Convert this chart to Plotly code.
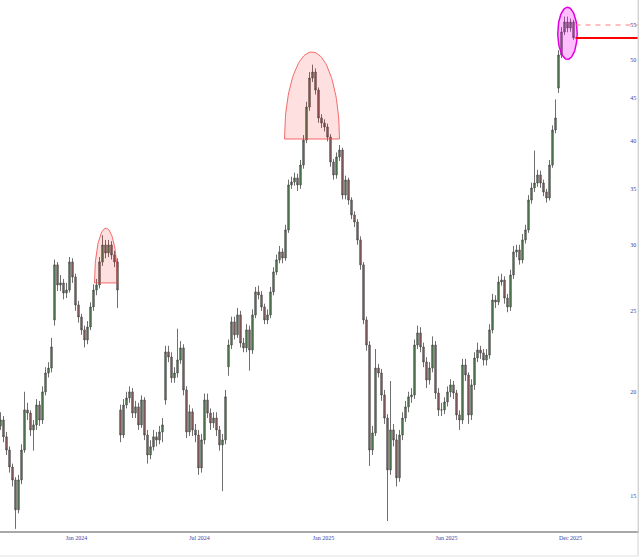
import math
import plotly.graph_objects as go

# ---------------- data ----------------
BAR_STEP = 3  # each candle stands for 3 trading sessions
tick_days = [76, 199, 323, 446, 570]
tick_labels = ["Jan 2024", "Jul 2024", "Jan 2025", "Jun 2025", "Dec 2025"]
y_ticks = [15, 20, 25, 30, 35, 40, 45, 50, 55]

closes = [
    18.50, 17.66, 17.03, 16.25, 15.68, 14.44, 15.68, 17.03, 19.02, 18.86,
    18.00, 18.25, 19.28, 18.50, 19.99, 21.06, 21.35, 22.63, 28.38, 26.85,
    27.00, 26.26, 26.48, 28.61, 27.45, 25.41, 24.58, 23.72, 23.07, 23.91,
    25.27, 26.48, 26.85, 28.61, 29.98, 29.33, 29.98, 29.17, 28.61, 26.48,
    17.75, 19.28, 19.66, 19.99, 18.86, 19.18, 18.25, 19.55, 17.75, 16.80,
    17.18, 17.66, 17.51, 17.90, 18.25, 22.32, 22.01, 20.78, 21.06, 21.83,
    22.57, 20.10, 17.90, 18.92, 18.00, 17.75, 16.21, 17.51, 19.55, 18.86,
    18.35, 18.60, 18.00, 17.27, 17.51, 19.72, 22.75, 24.25, 23.40, 24.72,
    22.88, 22.57, 23.72, 22.44, 24.72, 26.34, 26.12, 25.27, 24.38, 24.72,
    26.34, 27.83, 28.77, 29.41, 28.92, 31.25, 35.38, 35.67, 36.07, 35.38,
    37.38, 40.05, 43.86, 47.52, 48.31, 45.97, 42.56, 41.97, 41.51, 40.38,
    37.69, 36.37, 38.22, 38.96, 34.41, 35.87, 33.94, 32.57, 31.94, 30.40,
    28.38, 24.38, 22.75, 17.03, 17.85, 21.35, 21.06, 19.82, 18.60, 16.12,
    18.00, 17.51, 15.77, 17.75, 18.60, 19.18, 19.72, 19.82, 22.75, 23.52,
    22.63, 21.71, 20.66, 21.35, 22.75, 19.93, 19.02, 19.02, 19.44, 19.99,
    20.38, 19.93, 18.76, 18.50, 21.53, 20.95, 18.76, 20.38, 21.95, 22.44,
    22.26, 21.83, 22.13, 23.72, 25.76, 25.62, 27.07, 27.22, 25.90, 25.27,
    27.60, 29.41, 29.57, 28.77, 30.40, 31.25, 33.94, 35.09, 35.57, 36.37,
    35.57, 34.70, 34.13, 37.38, 41.17, 42.56, 50.64, 53.95, 55.46, 54.55,
    55.46, 53.10,
]
highs = [
    18.9, 18.7, 17.9, 17.2, 16.4, 15.8, 15.9, 17.3, 20.0, 19.4,
    19.0, 18.5, 19.6, 19.5, 20.3, 21.4, 21.7, 23.2, 28.8, 28.6,
    27.6, 27.3, 27.0, 29.0, 28.9, 27.7, 25.7, 24.8, 24.0, 24.3,
    25.6, 26.9, 27.3, 29.0, 30.8, 30.4, 30.4, 30.3, 29.5, 28.9,
    19.3, 19.6, 20.0, 20.3, 20.2, 19.5, 19.4, 19.8, 19.7, 18.0,
    17.5, 18.0, 17.9, 18.2, 18.6, 22.7, 22.7, 22.3, 21.4, 23.8,
    23.0, 22.8, 20.3, 19.3, 19.1, 18.3, 18.0, 17.8, 19.9, 19.9,
    19.1, 18.9, 18.9, 18.2, 17.8, 20.1, 23.1, 24.6, 24.6, 25.2,
    25.0, 23.2, 24.1, 24.0, 25.1, 26.7, 26.8, 26.4, 25.5, 25.1,
    26.7, 28.2, 29.2, 29.9, 29.7, 31.7, 35.9, 36.2, 36.6, 36.5,
    37.9, 40.6, 44.5, 48.3, 49.3, 48.8, 46.3, 43.0, 42.4, 41.9,
    40.7, 38.0, 38.7, 39.5, 39.2, 36.3, 36.1, 34.2, 32.9, 32.2,
    30.7, 28.6, 24.6, 23.0, 18.2, 22.5, 21.6, 21.3, 20.1, 18.8,
    20.6, 18.3, 17.8, 18.0, 18.9, 19.5, 20.0, 20.2, 23.1, 24.0,
    23.9, 22.9, 22.0, 21.7, 23.3, 23.0, 20.2, 19.4, 19.7, 20.3,
    20.7, 20.6, 20.1, 19.0, 21.9, 21.9, 21.1, 20.7, 22.3, 22.9,
    22.7, 22.5, 22.5, 24.1, 26.2, 26.1, 27.5, 27.7, 27.5, 26.2,
    28.0, 29.9, 30.0, 30.0, 30.9, 31.7, 34.4, 35.6, 38.9, 36.9,
    36.8, 35.9, 35.0, 37.9, 41.7, 44.8, 51.3, 54.7, 56.3, 56.3,
    56.0, 55.8,
]
lows = [
    18.0, 17.4, 16.8, 16.0, 15.4, 13.7, 14.3, 15.5, 16.9, 18.5,
    17.7, 17.0, 18.0, 18.2, 18.3, 19.8, 20.8, 21.1, 24.0, 26.4,
    26.4, 25.8, 25.9, 26.3, 27.0, 25.0, 24.2, 23.4, 22.6, 22.8,
    23.7, 25.0, 26.1, 26.6, 28.3, 28.9, 29.0, 28.8, 28.2, 25.2,
    17.4, 17.6, 19.1, 19.4, 18.6, 18.6, 18.0, 18.1, 17.5, 16.4,
    16.6, 17.0, 17.2, 17.3, 17.4, 19.3, 21.7, 20.5, 20.5, 20.8,
    21.6, 19.8, 17.6, 17.7, 17.7, 17.4, 15.9, 16.0, 17.3, 18.6,
    18.0, 18.1, 17.7, 17.0, 15.2, 17.3, 20.9, 22.5, 23.1, 23.2,
    22.6, 22.3, 22.3, 21.2, 22.2, 24.5, 25.8, 25.0, 24.1, 24.1,
    24.5, 26.1, 27.6, 28.5, 28.5, 28.7, 31.0, 35.0, 35.3, 34.8,
    35.0, 37.0, 39.7, 43.4, 47.0, 45.4, 42.0, 41.4, 41.0, 39.9,
    37.2, 35.9, 36.0, 37.8, 34.0, 34.0, 33.5, 32.2, 31.5, 30.0,
    28.0, 24.1, 22.4, 16.3, 16.8, 17.7, 20.8, 19.5, 18.3, 14.0,
    15.9, 17.2, 15.4, 15.6, 17.5, 18.4, 18.9, 19.4, 19.6, 22.5,
    22.3, 21.4, 20.2, 20.4, 21.1, 19.6, 18.7, 18.7, 18.8, 19.2,
    19.7, 19.6, 18.5, 18.0, 18.3, 20.6, 18.3, 18.5, 20.1, 21.7,
    21.9, 21.5, 21.5, 21.9, 23.5, 25.2, 25.4, 26.8, 25.5, 24.9,
    25.0, 27.3, 29.0, 28.4, 28.5, 30.1, 31.0, 33.6, 34.7, 35.2,
    35.1, 34.3, 33.7, 33.9, 37.1, 40.8, 45.6, 50.2, 53.5, 53.9,
    54.0, 52.8,
]
# opens where a candle does not open at the previous close (price gaps)
gap_opens = {0: 18.2, 18: 24.38, 40: 19.02, 55: 19.55, 76: 21.42, 186: 46.22}

# annotation levels / zones
resistance_level = 53.05
dashed_level = 55.0
domes = [  # (start day, end day, base price, top price)
    (94, 117, 27.0, 31.4),
    (284, 339, 40.16, 51.06),
]
ellipse_zone = (557.3, 576.7, 50.04, 57.75)
level_start_day = 575

# ---------------- figure ----------------
days = [i * BAR_STEP for i in range(len(closes))]
opens = [gap_opens[i] if i in gap_opens else closes[i - 1] for i in range(len(closes))]

AXIS_FONT = dict(family="Liberation Serif", size=6, color="#3b3ba6")

fig = go.Figure()
fig.add_trace(go.Candlestick(
    x=days, open=opens, high=highs, low=lows, close=closes,
    increasing=dict(line=dict(color="#4a4a4a", width=0.8), fillcolor="#4f8a4f"),
    decreasing=dict(line=dict(color="#4a4a4a", width=0.8), fillcolor="#9a6060"),
    whiskerwidth=0, hoverinfo="skip", showlegend=False,
))


def dome_points(x0, x1, base, top, n=60):
    cx, a = (x0 + x1) / 2, (x1 - x0) / 2
    lb, lt = math.log10(base), math.log10(top)
    xs, ys = [], []
    for k in range(n + 1):
        t = math.pi * k / n
        xs.append(cx - a * math.cos(t))
        ys.append(10 ** (lb + (lt - lb) * math.sin(t)))
    xs.append(xs[0]); ys.append(ys[0])
    return xs, ys


for (d0, d1, b, t) in domes:
    xs, ys = dome_points(d0, d1, b, t)
    fig.add_trace(go.Scatter(x=xs, y=ys, mode="lines", fill="toself",
                             fillcolor="rgba(255,0,0,0.12)",
                             line=dict(color="rgba(240,60,60,0.75)", width=1),
                             hoverinfo="skip", showlegend=False))

ex0, ex1, ey0, ey1 = ellipse_zone
ecx, ea = (ex0 + ex1) / 2, (ex1 - ex0) / 2
lc = (math.log10(ey0) + math.log10(ey1)) / 2
lr = (math.log10(ey1) - math.log10(ey0)) / 2
exs = [ecx + ea * math.cos(2 * math.pi * k / 80) for k in range(81)]
eys = [10 ** (lc + lr * math.sin(2 * math.pi * k / 80)) for k in range(81)]
fig.add_trace(go.Scatter(x=exs, y=eys, mode="lines", fill="toself",
                         fillcolor="rgba(255,0,255,0.25)",
                         line=dict(color="#e000e0", width=1.5),
                         hoverinfo="skip", showlegend=False))

fig.add_trace(go.Scatter(x=[level_start_day, 640], y=[dashed_level, dashed_level], mode="lines",
                         line=dict(color="rgba(255,110,110,0.6)", width=1.5, dash="5px,5px"),
                         hoverinfo="skip", showlegend=False))
fig.add_trace(go.Scatter(x=[level_start_day, 640], y=[resistance_level, resistance_level], mode="lines",
                         line=dict(color="#ff0000", width=2),
                         hoverinfo="skip", showlegend=False))

PLOT_H = 557 - 26
fig.update_layout(
    width=640, height=557,
    margin=dict(l=0, r=2, t=0, b=26),
    paper_bgcolor="white", plot_bgcolor="white",
    showlegend=False,
    xaxis=dict(range=[-0.5, 637.5], tickmode="array", tickvals=tick_days, ticktext=tick_labels,
               showgrid=False, zeroline=False, showline=True, linecolor="#a8a8a8", linewidth=2,
               ticks="", tickfont=AXIS_FONT, rangeslider=dict(visible=False), fixedrange=True),
    yaxis=dict(type="log", range=[math.log10(13.62), math.log10(58.93)], side="right",
               tickmode="array", tickvals=y_ticks, ticktext=[str(v) for v in y_ticks],
               ticklabelposition="inside", showgrid=False, zeroline=False,
               showline=True, linecolor="#d4d4d4", linewidth=1, ticks="",
               tickfont=AXIS_FONT, fixedrange=True),
    shapes=[
        dict(type="line", xref="paper", yref="paper", x0=1, x1=1, y0=-25 / PLOT_H, y1=1,
             line=dict(color="#d4d4d4", width=1)),
        dict(type="line", xref="paper", yref="paper", x0=0, x1=1, y0=-25 / PLOT_H, y1=-25 / PLOT_H,
             line=dict(color="#e0e0e0", width=1)),
    ],
)

fig.write_html("out.html", config={"displayModeBar": False},
               post_script="document.body.style.margin='0';document.body.style.overflow='hidden';")
